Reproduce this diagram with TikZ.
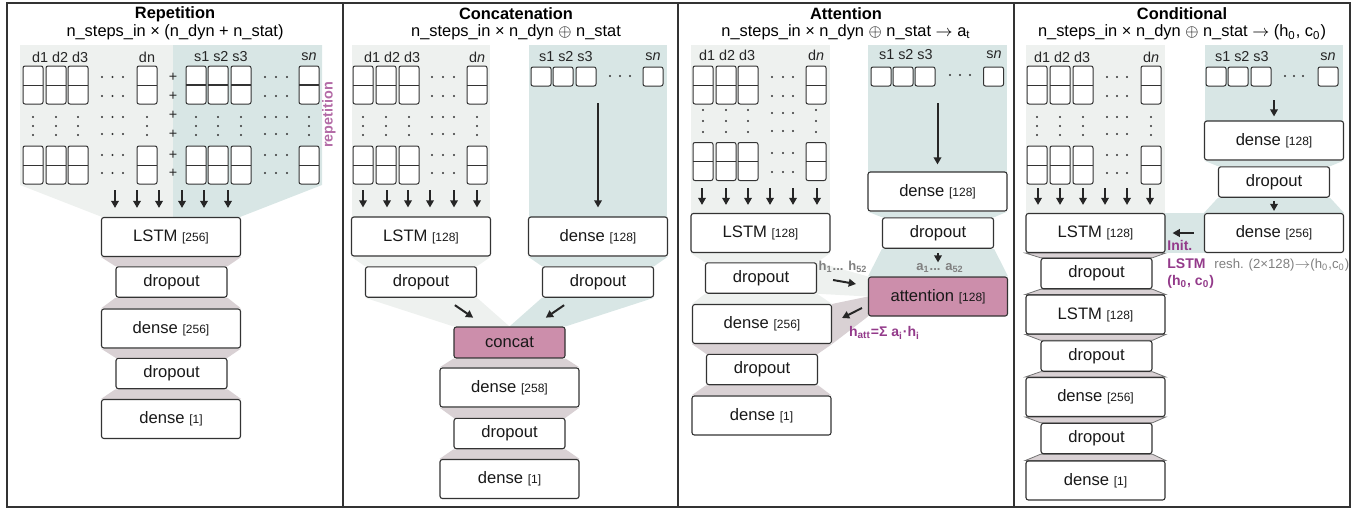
\documentclass[tikz,border=0pt]{standalone}
\usepackage{fontspec}
\setmainfont{Liberation Sans}
\usetikzlibrary{arrows.meta,calc}
\pgfdeclarelayer{background}
\pgfsetlayers{background,main}
\definecolor{edge}{HTML}{333333}
\definecolor{dynbg}{HTML}{EEF1EF}
\definecolor{statbg}{HTML}{D8E6E5}
\definecolor{jointbg}{HTML}{D9D1D4}
\definecolor{attnfill}{HTML}{CC8EAB}
\definecolor{labpurple}{HTML}{933A8A}
\definecolor{reppurple}{HTML}{B36BA6}
\newcommand{\units}[1]{{\fontsize{6}{6}\selectfont[#1]}}

\begin{document}
\begin{tikzpicture}[x=0.5pt,y=-0.5pt,
  box/.style={draw=edge,fill=white,line width=0.55pt,rounded corners=1.2pt,inner sep=0pt,minimum width=69.5pt,minimum height=19.5pt,text=black!90,font=\fontsize{8.3}{9}\selectfont},
  dropbox/.style={box,minimum width=55.5pt,minimum height=15.2pt},
  mixbox/.style={box,fill=attnfill},
  col/.style={draw=edge,fill=white,line width=0.5pt,rounded corners=1pt,inner sep=0pt,minimum width=10pt,minimum height=19pt,path picture={\draw[edge,line width=0.5pt] (path picture bounding box.west) -- (path picture bounding box.east);}},
  cell/.style={draw=edge,fill=white,line width=0.5pt,rounded corners=1pt,inner sep=0pt,minimum width=10pt,minimum height=9.5pt},
  arr/.style={-{Triangle[length=3.6pt,width=3.8pt]},line width=1pt,draw=black!85},
  paneltitle/.style={inner sep=0.5pt,font=\bfseries\fontsize{8.2}{9}\selectfont},
  panelsub/.style={inner sep=0.5pt,font=\fontsize{8.2}{9}\selectfont},
  lab/.style={font=\fontsize{7.2}{8}\selectfont,text=black!85},
  note/.style={font=\bfseries\fontsize{7}{8}\selectfont,text=labpurple},
  flowlab/.style={font=\bfseries\fontsize{6.5}{7}\selectfont,text=black!50},
  jointfill/.style={fill=jointbg}]
\useasboundingbox (0,0) rectangle (1368,509);
% frame
\draw[edge,line width=0.7pt] (7,3) rectangle (1350,507);
\foreach \x in {343,678,1014} \draw[edge,line width=0.7pt] (\x,3) -- (\x,507);

% ---- Repetition
\fill[dynbg] (20,45) -- (173,45) -- (173,217) -- (102,217) -- (20,185) -- cycle;
\fill[statbg] (173,45) -- (322,45) -- (322,185) -- (240,217) -- (173,217) -- cycle;
\node[paneltitle] (titA) at (175,14) {Repetition};
\node[panelsub] (subA) at (175,32.5) {n\_steps\_in × (n\_dyn + n\_stat)};
\node[lab,anchor=west] (dlabA) at (25,57) {d1 d2 d3};
\node[lab] (dnA) at (147,57) {dn};
\node[lab,anchor=west] (slabA) at (187,57) {s1 s2 s3};
\node[lab] (snA) at (309,57) {s\textit{n}};
\foreach \x in {33,56,78,147,196,218,241,309} \foreach \y in {85,165} \node[col] at (\x,\y) {};
\foreach \x in {196,218,241,309} \draw[edge,line width=1pt] (\x-10,85) -- (\x+10,85);
\foreach \x in {102,112.5,123,265,276,287} \foreach \y in {77,96,117,134,155,173} \fill[edge] (\x,\y) circle (0.55pt);
\foreach \x in {33,56,78,147,196,218,241,309} \foreach \y in {117,126,135} \fill[edge] (\x,\y) circle (0.55pt);
\foreach \y in {77,96,115,134,155,173} \node[lab] at (173,\y) {+};
\node[rotate=90,font=\bfseries\fontsize{7.2}{8}\selectfont,text=reppurple] (repA) at (329,115) {repetition};
\node[box] (lstmA) at (171,237) {LSTM \units{256}};
\node[dropbox] (dropA1) at (171.5,282) {dropout};
\node[box] (denseA) at (171,328.5) {dense \units{256}};
\node[dropbox] (dropA2) at (171.5,373.5) {dropout};
\node[box] (outA) at (171,419) {dense \units{1}};
\foreach \x in {115,137,159,182,204,228} \draw[arr,shorten >=4.5pt] (\x,190) -- (\x,190 |- lstmA.north);

% ---- Concatenation
\fill[dynbg] (352,45) rectangle (490,217);
\fill[statbg] (529,45) rectangle (667,217);
\node[paneltitle] (titB) at (516,14) {Concatenation};
\node[panelsub] (subB) at (516,32.5) {n\_steps\_in × n\_dyn $\oplus$ n\_stat};
\node[lab,anchor=west] (dlabB) at (357,57) {d1 d2 d3};
\node[lab] (dnB) at (477,57) {d\textit{n}};
\node[lab,anchor=west] (slabB) at (532,57) {s1 s2 s3};
\node[lab] (snB) at (653,57) {s\textit{n}};
\foreach \x in {363,386,409,477} \foreach \y in {85,165} \node[col] at (\x,\y) {};
\foreach \x in {541,563,586,653} \node[cell] at (\x,76.5) {};
\foreach \x in {432,443,454} \foreach \y in {77,96,117,134,155,173} \fill[edge] (\x,\y) circle (0.55pt);
\foreach \x in {363,386,409,477} \foreach \y in {117,126,135} \fill[edge] (\x,\y) circle (0.55pt);
\foreach \x in {610,620,630} \fill[edge] (\x,76) circle (0.55pt);
\node[box] (lstmB) at (421,236.5) {LSTM \units{128}};
\node[box] (denseB1) at (598,236.5) {dense \units{128}};
\node[dropbox] (dropB1) at (421,282) {dropout};
\node[dropbox] (dropB2) at (598,282) {dropout};
\node[dropbox,fill=attnfill,minimum height=15.5pt] (concat) at (509.5,342.5) {concat};
\node[box] (denseB2) at (509.5,387.5) {dense \units{258}};
\node[dropbox] (dropB3) at (509.5,433.5) {dropout};
\node[box] (outB) at (509.5,479) {dense \units{1}};
\foreach \x in {363,387,408,430,454,477} \draw[arr,shorten >=4.5pt] (\x,190) -- (\x,190 |- lstmB.north);
\draw[arr,shorten >=4.5pt] (598,103) -- (598,103 |- denseB1.north);
\draw[arr,shorten <=20.5pt,shorten >=22pt] (dropB1.center) -- (concat.center);
\draw[arr,shorten <=20.5pt,shorten >=22pt] (dropB2.center) -- (concat.center);

% ---- Attention
\fill[dynbg] (691,45) rectangle (830,213);
\fill[statbg] (868,45) rectangle (1007,172);
\node[paneltitle] (titC) at (846,14) {Attention};
\node[panelsub] (subC) at (846,32.5) {n\_steps\_in × n\_dyn $\oplus$ n\_stat $\rightarrow$ a\textsubscript{t}};
\node[lab,anchor=west] (dlabC) at (692,55) {d1 d2 d3};
\node[lab] (dnC) at (816,55) {d\textit{n}};
\node[lab,anchor=west] (slabC) at (872,55) {s1 s2 s3};
\node[lab] (snC) at (994,55) {s\textit{n}};
\foreach \x in {703,726,748,816} \foreach \y in {85,161.5} \node[col] at (\x,\y) {};
\foreach \x in {881,903,925,993.5} \node[cell] at (\x,76.5) {};
\foreach \x in {772,783,793} \foreach \y in {77,96,113,131,153,172} \fill[edge] (\x,\y) circle (0.55pt);
\foreach \x in {703,726,748,816} \foreach \y in {110,121,132} \fill[edge] (\x,\y) circle (0.55pt);
\foreach \x in {950,960,970} \fill[edge] (\x,75) circle (0.55pt);
\node[box] (lstmC) at (760.5,233) {LSTM \units{128}};
\node[box] (denseC1) at (937.5,191.5) {dense \units{128}};
\node[dropbox] (dropC2) at (938,233) {dropout};
\node[dropbox] (dropC1) at (761,278) {dropout};
\node[mixbox] (attn) at (938,296.5) {attention \units{128}};
\node[box] (denseC2) at (762,324) {dense \units{256}};
\node[dropbox] (dropC3) at (762,369.5) {dropout};
\node[box] (outC) at (761.5,415.5) {dense \units{1}};
\foreach \x in {702,726,748,770,793,817} \draw[arr,shorten >=4pt] (\x,188) -- (\x,188 |- lstmC.north);
\draw[arr,shorten >=3.5pt] (937.5,103) -- (937.5,103 |- denseC1.north);
\draw[arr,shorten <=2pt,shorten >=7pt] (dropC2) -- (attn);
\draw[arr] ($(dropC1.east)+(16,2)$) -- ($(attn.west)+(-12,-12.5)$);
\draw[arr] ($(attn.west)+(-6,11.5)$) -- ($(denseC2.east)+(10,-6)$);
\node[flowlab] (hlab) at (843,267) {h\textsubscript{1}... h\textsubscript{52}};
\node[flowlab] (alab) at (940,268) {a\textsubscript{1}... a\textsubscript{52}};
\node[note] (hatt) at (884.5,333) {h\textsubscript{att}=Σ a\textsubscript{i}·h\textsubscript{i}};

% ---- Conditional
\fill[dynbg] (1026,45) rectangle (1165,213);
\fill[statbg] (1205,45) rectangle (1343,121);
\fill[statbg] (1165,213) rectangle (1205,253);
\node[paneltitle] (titD) at (1182,14) {Conditional};
\node[panelsub] (subD) at (1182,32.5) {n\_steps\_in × n\_dyn $\oplus$ n\_stat $\rightarrow$ (h\textsubscript{0}, c\textsubscript{0})};
\node[lab,anchor=west] (dlabD) at (1027,57) {d1 d2 d3};
\node[lab] (dnD) at (1151,57) {d\textit{n}};
\node[lab,anchor=west] (slabD) at (1208,57) {s1 s2 s3};
\node[lab] (snD) at (1328,57) {s\textit{n}};
\foreach \x in {1037,1060,1083,1151} \foreach \y in {85,165} \node[col] at (\x,\y) {};
\foreach \x in {1216,1238,1261,1328} \node[cell] at (\x,76.5) {};
\foreach \x in {1107,1117,1127} \foreach \y in {77,96,117,134,155,173} \fill[edge] (\x,\y) circle (0.55pt);
\foreach \x in {1037,1060,1083,1151} \foreach \y in {117,126,135} \fill[edge] (\x,\y) circle (0.55pt);
\foreach \x in {1285,1294,1303} \fill[edge] (\x,76) circle (0.55pt);
\node[box] (denseD1) at (1274,140.5) {dense \units{128}};
\node[dropbox] (dropD) at (1274,182) {dropout};
\node[box] (denseD2) at (1274,233) {dense \units{256}};
\node[box] (lstmD1) at (1095.5,233) {LSTM \units{128}};
\node[dropbox] (dropD1) at (1096.5,273.5) {dropout};
\node[box] (lstmD2) at (1095.5,314.5) {LSTM \units{128}};
\node[dropbox] (dropD2) at (1096.5,356) {dropout};
\node[box] (denseD3) at (1095.5,397) {dense \units{256}};
\node[dropbox] (dropD3) at (1096.5,438.5) {dropout};
\node[box] (outD) at (1095.5,480.5) {dense \units{1}};
\foreach \x in {1038,1060,1083,1105,1127,1150} \draw[arr,shorten >=4pt] (\x,188) -- (\x,188 |- lstmD1.north);
\draw[arr,shorten >=2pt] (1274,100) -- (1274,100 |- denseD1.north);
\draw[arr,shorten <=1.5pt,shorten >=1pt] (dropD) -- (denseD2);
\draw[arr,shorten <=5pt,shorten >=3.5pt] (denseD2) -- (lstmD1);
\node[note,anchor=base west,inner sep=0pt] (initA) at (1167,250.5) {Init.};
\node[note,anchor=base west,inner sep=0pt] (initB) at (1167,268) {LSTM};
\node[note,anchor=base west,inner sep=0pt] (initC) at (1167,285.5) {(h\textsubscript{0}, c\textsubscript{0})};
\node[anchor=base west,inner sep=0pt,font=\fontsize{6.6}{8}\selectfont,text=black!50] (resh) at (1214,268) {resh. (2×128)$\rightarrow$(h\textsubscript{0},c\textsubscript{0})};

% shaded joins behind the boxes
\begin{pgfonlayer}{background}
\foreach \a/\b in {lstmA/dropA1,dropA1/denseA,denseA/dropA2,dropA2/outA,concat/denseB2,denseB2/dropB3,dropB3/outB,denseC2/dropC3,dropC3/outC}
  \fill[jointfill] (\a.south west) -- (\a.south east) -- (\b.north east) -- (\b.north west) -- cycle;
\foreach \a/\b in {lstmD1/dropD1,dropD1/lstmD2,lstmD2/dropD2,dropD2/denseD3,denseD3/dropD3,dropD3/outD}
  \filldraw[jointfill,draw=black!55,line width=0.4pt] (\a.south west) -- (\a.south east) -- (\b.north east) -- (\b.north west) -- cycle;
\foreach \a/\b in {lstmB/dropB1,lstmC/dropC1,dropC1/denseC2}
  \fill[dynbg] (\a.south west) -- (\a.south east) -- (\b.north east) -- (\b.north west) -- cycle;
\foreach \a/\b in {denseB1/dropB2,denseC1/dropC2,dropC2/attn,denseD1/dropD,dropD/denseD2}
  \fill[statbg] (\a.south west) -- (\a.south east) -- (\b.north east) -- (\b.north west) -- cycle;
\fill[dynbg] (dropB1.south west) -- (dropB1.south east) -- (concat.north) -- (concat.north west) -- cycle;
\fill[statbg] (dropB2.south west) -- (dropB2.south east) -- (concat.north east) -- (concat.north) -- cycle;
\fill[dynbg] (dropC1.north east) -- (attn.north west) -- (attn.west) -- (dropC1.south east) -- cycle;
\fill[jointfill] (attn.west) -- (attn.south west) -- (denseC2.south east) -- (denseC2.north east) -- cycle;
\end{pgfonlayer}
\end{tikzpicture}
\end{document}
